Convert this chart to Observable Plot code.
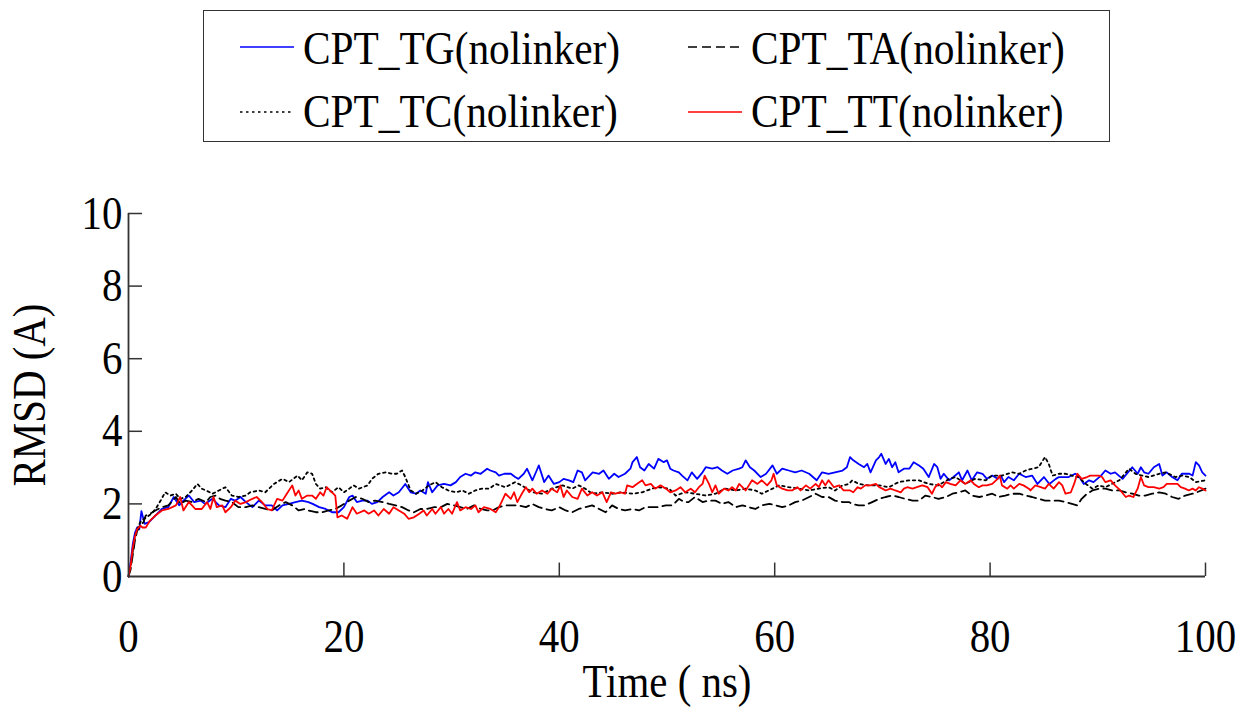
<!DOCTYPE html>
<html>
<head>
<meta charset="utf-8">
<script src="https://cdn.jsdelivr.net/npm/d3@7"></script>
<script src="https://cdn.jsdelivr.net/npm/@observablehq/plot@0.6"></script>
<style>
  html, body { margin: 0; padding: 0; background: #fff; }
  body { width: 1241px; height: 707px; overflow: hidden; font-family: "Liberation Serif", "Times New Roman", serif; }
  #legend { position: relative; width: 1241px; height: 150px; }
  #box { position: absolute; left: 203px; top: 10px; width: 907px; height: 132px; box-sizing: border-box; border: 1.5px solid #333; }
  .lab { position: absolute; font-size: 47px; line-height: 1; white-space: nowrap; color: #000; transform: scaleX(0.88); transform-origin: left center; }
  .samp { position: absolute; overflow: visible; }
  #chart svg { display: block; }
</style>
</head>
<body>
<div id="legend"><div id="box"></div></div>
<div id="chart"></div>
<script>
// ---- data (time in ns, RMSD in Å) ----
const seriesNames = ["CPT_TG(nolinker)", "CPT_TA(nolinker)", "CPT_TC(nolinker)", "CPT_TT(nolinker)"];
const xTicks = [0, 20, 40, 60, 80, 100];
const yTicks = [0, 2, 4, 6, 8, 10];

const tg = [[0,0],[0.2,0.4],[0.4,0.9],[0.6,1.2],[0.8,1.35],[1.0,1.3],[1.2,1.8],[1.5,1.45],[1.9,1.5],[2.5,1.68],[3.1,1.86],[3.7,1.91],[4.2,2.19],[4.7,1.96],[5.1,2.09],[5.6,2.23],[6.1,2.05],[6.7,2.09],[7.1,2.0],[7.8,2.14],[8.4,1.96],[9.0,1.91],[9.5,2.14],[9.9,2.09],[10.4,2.19],[10.9,2.05],[11.5,1.91],[12.1,2.09],[12.7,1.96],[13.3,1.96],[13.8,1.82],[14.3,1.96],[14.9,2.0],[15.5,2.05],[16.1,2.09],[16.7,2.05],[17.1,2.0],[17.7,1.91],[18.3,1.86],[18.9,1.77],[19.5,1.77],[20.0,1.91],[20.5,2.19],[20.8,2.23],[21.2,2.05],[21.7,2.09],[22.2,2.09],[22.6,2.0],[23.1,2.05],[23.6,2.19],[24.2,2.32],[24.6,2.23],[25.1,2.32],[25.7,2.55],[26.2,2.32],[26.7,2.28],[27.1,2.37],[27.6,2.28],[27.8,2.6],[28.2,2.32],[28.7,2.51],[29.3,2.55],[29.9,2.51],[30.4,2.6],[30.8,2.74],[31.3,2.83],[31.8,2.78],[32.2,2.87],[32.7,2.83],[33.3,2.97],[33.6,2.92],[34.1,2.87],[34.4,2.78],[34.9,2.83],[35.5,2.83],[35.9,2.74],[36.2,2.69],[36.7,2.83],[37.0,2.97],[37.5,2.65],[37.9,2.92],[38.1,3.06],[38.6,2.6],[39.0,2.78],[39.5,2.55],[40.0,2.6],[40.4,2.69],[40.9,2.65],[41.3,2.6],[41.7,2.92],[42.1,2.87],[42.4,2.65],[43.1,2.87],[43.7,2.83],[44.1,2.92],[44.6,2.69],[45.1,2.83],[45.5,2.74],[46.1,2.83],[46.6,2.97],[46.8,3.15],[47.2,3.29],[47.5,3.01],[47.9,2.92],[48.3,3.1],[48.8,2.97],[49.2,3.24],[49.7,3.15],[50.0,3.2],[50.3,2.97],[50.6,2.92],[51.1,2.87],[51.4,2.78],[51.9,2.65],[52.3,2.87],[52.8,2.69],[53.3,2.87],[53.6,3.01],[54.2,2.97],[54.7,3.01],[55.1,2.92],[55.6,2.83],[56.1,2.92],[56.7,2.97],[57.0,3.01],[57.3,3.2],[57.7,3.01],[58.1,2.92],[58.7,2.74],[59.2,2.83],[59.8,3.06],[60.2,2.83],[60.7,2.97],[61.3,2.92],[61.9,2.87],[62.5,2.92],[63.2,2.83],[63.9,2.65],[64.4,2.87],[65.0,2.83],[65.6,2.87],[66.3,2.92],[66.7,3.01],[67.0,3.29],[67.3,3.2],[67.8,3.1],[68.3,3.01],[68.6,3.1],[68.9,2.87],[69.4,3.2],[69.7,3.29],[69.9,3.38],[70.3,3.1],[70.6,3.24],[70.9,3.01],[71.2,3.15],[71.5,2.87],[72.0,2.97],[72.5,2.97],[72.9,3.15],[73.4,3.06],[73.8,2.97],[74.3,2.74],[74.8,3.1],[75.1,3.01],[75.4,2.69],[75.7,2.83],[76.2,2.65],[76.6,2.74],[77.1,2.87],[77.4,2.65],[77.9,2.92],[78.3,2.65],[78.8,2.87],[79.3,2.83],[79.7,2.69],[80.2,2.78],[80.7,2.69],[81.0,2.78],[81.3,2.6],[81.7,2.74],[82.2,2.65],[82.7,2.83],[83.3,2.74],[83.9,2.78],[84.4,2.55],[85.0,2.74],[85.5,2.55],[86.1,2.69],[86.4,2.74],[87.3,2.74],[87.9,2.83],[88.2,2.78],[88.7,2.55],[89.2,2.65],[89.6,2.6],[90.3,2.78],[90.7,2.92],[91.2,2.83],[91.6,2.87],[92.3,2.69],[92.7,2.83],[93.2,3.01],[93.7,2.83],[94.0,3.01],[94.3,2.87],[94.7,2.83],[95.2,3.01],[95.7,3.1],[96.0,2.78],[96.4,2.87],[96.9,2.74],[97.4,2.65],[97.8,2.83],[98.5,2.83],[98.8,2.78],[99.1,3.15],[99.4,3.06],[99.7,2.87],[100,2.78]];

const ta = [[0,0],[0.2,0.2],[0.4,0.6],[0.6,1.0],[0.8,1.25],[1.1,1.4],[1.4,1.5],[1.6,1.68],[2.0,1.73],[2.5,1.82],[3.1,1.91],[3.7,1.96],[4.4,2.19],[4.8,2.0],[5.3,2.09],[5.9,2.05],[6.5,2.14],[7.2,2.05],[7.6,2.19],[8.1,2.23],[8.5,2.14],[9.0,2.09],[9.6,2.05],[10.2,1.91],[10.9,1.91],[11.5,1.96],[12.1,1.91],[12.7,1.86],[13.3,1.82],[14.0,1.96],[14.6,2.05],[15.2,1.96],[15.8,1.82],[16.4,1.86],[16.7,1.82],[17.4,1.77],[18.0,1.77],[18.6,1.82],[19.2,1.86],[19.8,1.96],[20.5,2.09],[21.1,2.19],[21.7,2.14],[22.3,2.05],[22.9,2.09],[23.6,2.05],[24.2,2.0],[24.8,1.96],[25.4,1.91],[26.0,1.82],[26.5,1.77],[27.1,1.86],[27.7,1.86],[28.4,1.91],[29.0,1.91],[29.6,2.0],[30.2,1.96],[30.8,1.91],[31.4,1.86],[32.1,1.96],[32.7,1.86],[33.3,1.82],[33.8,1.82],[34.4,1.91],[35.0,1.96],[35.6,1.96],[36.2,1.96],[36.9,1.91],[37.5,2.0],[38.1,1.91],[38.7,1.86],[39.3,1.82],[40.0,1.91],[40.6,1.82],[41.2,1.77],[41.8,1.86],[42.4,1.91],[43.05,1.96],[43.7,1.86],[44.3,1.77],[44.9,1.96],[45.5,1.86],[46.1,1.82],[46.8,1.86],[47.4,1.82],[48.0,1.91],[48.6,1.91],[49.2,1.91],[49.9,1.96],[50.5,1.96],[51.1,2.14],[51.6,2.05],[52.0,2.05],[52.6,2.19],[53.3,2.05],[53.9,2.09],[54.5,2.09],[55.1,2.0],[55.7,2.05],[56.4,1.91],[57.0,1.96],[57.6,1.91],[58.2,1.86],[58.8,1.96],[59.5,2.0],[60.1,1.96],[60.7,1.91],[61.3,1.96],[61.9,2.05],[62.5,2.09],[63.2,2.19],[63.8,2.28],[64.4,2.19],[65.0,2.19],[65.6,2.09],[66.3,2.05],[66.9,2.05],[67.2,2.0],[67.8,1.96],[68.4,1.96],[69.05,2.05],[69.7,2.14],[70.3,2.19],[70.9,2.23],[71.5,2.19],[72.1,2.14],[72.8,2.09],[73.4,2.09],[74.0,2.23],[74.6,2.19],[75.2,2.14],[75.9,2.19],[76.5,2.28],[77.1,2.32],[77.7,2.37],[78.3,2.23],[79.0,2.19],[79.6,2.23],[80.2,2.28],[80.8,2.19],[81.4,2.23],[82.05,2.28],[82.7,2.28],[83.3,2.23],[83.9,2.19],[84.5,2.14],[85.1,2.09],[85.8,2.09],[86.4,2.09],[87.0,2.05],[87.6,2.0],[88.1,1.96],[88.5,2.14],[89.0,2.28],[89.5,2.37],[90.1,2.42],[90.7,2.42],[91.3,2.37],[92.0,2.37],[92.6,2.32],[93.2,2.28],[93.8,2.23],[94.4,2.23],[95.05,2.28],[95.7,2.32],[96.3,2.28],[96.9,2.19],[97.5,2.14],[98.1,2.23],[98.8,2.28],[99.2,2.32],[100,2.42]];

const tc = [[0,0],[0.2,0.3],[0.4,0.7],[0.6,1.1],[0.8,1.3],[1.1,1.5],[1.5,1.6],[2.0,1.7],[2.5,1.85],[3.0,2.1],[3.4,2.32],[3.9,2.23],[4.4,2.28],[4.8,2.14],[5.3,2.19],[5.9,2.37],[6.4,2.55],[6.8,2.42],[7.2,2.37],[7.8,2.28],[8.4,2.37],[9.0,2.46],[9.6,2.23],[10.2,2.19],[10.9,2.23],[11.3,2.32],[12.1,2.37],[12.7,2.32],[13.5,2.55],[14.3,2.69],[14.9,2.6],[15.7,2.78],[16.1,2.65],[16.6,2.87],[17.05,2.83],[17.4,2.55],[17.8,2.42],[18.3,2.46],[18.9,2.32],[19.5,2.46],[20.0,2.32],[20.5,2.42],[20.9,2.51],[21.4,2.42],[22.2,2.51],[22.6,2.69],[23.2,2.83],[23.9,2.87],[24.5,2.83],[24.9,2.83],[25.4,2.92],[25.7,2.74],[26.2,2.37],[26.7,2.28],[27.3,2.37],[27.9,2.51],[28.5,2.6],[29.1,2.46],[29.7,2.37],[30.4,2.32],[31.0,2.37],[31.6,2.28],[32.2,2.37],[32.8,2.42],[33.5,2.42],[34.1,2.55],[35.0,2.46],[35.9,2.6],[36.5,2.51],[37.5,2.32],[38.4,2.28],[39.3,2.42],[40.3,2.51],[41.2,2.42],[41.8,2.51],[42.4,2.42],[43.05,2.28],[44.0,2.32],[44.9,2.28],[45.8,2.32],[46.8,2.28],[47.7,2.32],[48.6,2.42],[49.2,2.46],[50.2,2.42],[50.8,2.23],[51.7,2.32],[52.6,2.28],[53.6,2.23],[54.5,2.28],[55.4,2.42],[56.4,2.37],[57.3,2.42],[58.2,2.37],[58.8,2.28],[59.8,2.42],[60.4,2.51],[61.3,2.46],[62.2,2.42],[63.2,2.37],[64.1,2.42],[65.0,2.46],[65.6,2.37],[66.3,2.51],[66.9,2.55],[67.2,2.65],[67.8,2.55],[68.7,2.51],[69.7,2.51],[70.6,2.46],[71.5,2.6],[72.5,2.65],[73.4,2.65],[74.3,2.55],[75.2,2.51],[76.2,2.69],[76.8,2.74],[77.7,2.55],[78.6,2.69],[79.6,2.65],[80.2,2.78],[81.1,2.78],[82.05,2.87],[82.7,2.83],[83.3,2.92],[83.9,2.97],[84.5,3.01],[85.1,3.29],[85.45,3.1],[85.8,2.78],[86.4,2.83],[87.0,2.83],[87.6,2.78],[88.2,2.74],[88.9,2.55],[89.5,2.42],[90.1,2.51],[90.7,2.46],[91.3,2.55],[92.0,2.65],[92.9,2.97],[93.5,2.83],[94.1,2.78],[94.7,2.74],[95.7,2.83],[96.3,2.87],[97.2,2.74],[97.8,2.78],[98.5,2.74],[99.1,2.6],[100,2.65]];

const tt = [[0,0],[0.2,0.3],[0.4,0.8],[0.6,1.1],[0.8,1.3],[1.1,1.4],[1.3,1.35],[1.6,1.35],[2.0,1.54],[2.5,1.68],[3.1,1.82],[3.7,1.86],[4.4,1.96],[4.8,2.19],[5.1,1.82],[5.6,2.05],[5.9,1.96],[6.2,1.86],[6.8,1.86],[7.3,2.05],[7.6,1.86],[7.9,2.19],[8.2,1.91],[8.7,1.96],[9.0,1.77],[9.5,1.91],[9.9,2.09],[10.4,2.0],[10.9,2.05],[11.5,2.14],[11.9,2.19],[12.4,2.05],[12.9,1.86],[13.3,1.82],[13.8,2.14],[14.3,2.09],[14.7,2.28],[15.2,2.51],[15.5,2.23],[15.8,2.37],[16.1,2.14],[16.6,2.23],[17.05,2.23],[17.4,2.14],[17.8,2.32],[18.1,2.23],[18.4,2.46],[18.9,2.32],[19.2,2.23],[19.4,1.63],[19.8,1.68],[20.3,1.59],[20.8,1.91],[21.2,1.73],[21.9,1.82],[22.3,1.73],[22.8,1.82],[23.2,1.68],[23.7,1.86],[24.2,1.73],[24.6,1.91],[25.1,1.82],[25.6,1.73],[26.0,1.59],[26.5,1.63],[27.0,1.73],[27.4,1.82],[27.7,1.68],[28.2,1.86],[28.5,1.73],[29.0,1.91],[29.3,1.73],[29.7,1.86],[30.05,1.73],[30.5,2.05],[30.8,1.82],[31.3,1.91],[31.8,1.86],[32.2,1.96],[32.5,1.77],[33.0,1.91],[33.6,1.86],[34.1,1.77],[34.4,1.91],[34.7,2.09],[35.0,2.28],[35.5,2.14],[35.8,2.32],[36.1,2.05],[36.6,2.32],[36.9,2.46],[37.2,2.32],[37.5,2.42],[37.9,2.28],[38.4,2.37],[38.9,2.28],[39.3,2.42],[39.8,2.32],[40.1,2.51],[40.4,2.19],[40.7,2.37],[41.2,2.19],[41.7,2.14],[42.1,2.42],[42.6,2.23],[43.05,2.32],[43.5,2.23],[44.0,2.32],[44.4,2.05],[44.8,2.32],[45.2,2.28],[45.7,2.32],[46.1,2.28],[46.3,2.51],[46.8,2.46],[47.2,2.55],[47.7,2.65],[48.0,2.51],[48.5,2.55],[48.9,2.42],[49.4,2.51],[49.9,2.42],[50.3,2.32],[50.8,2.37],[51.25,2.46],[51.7,2.32],[52.2,2.42],[52.6,2.32],[52.96,2.46],[53.3,2.55],[53.5,2.78],[53.9,2.55],[54.2,2.32],[54.5,2.51],[54.8,2.28],[55.3,2.42],[55.7,2.37],[56.05,2.46],[56.4,2.37],[56.7,2.55],[57.0,2.46],[57.3,2.37],[57.6,2.51],[57.9,2.65],[58.4,2.55],[58.8,2.65],[59.3,2.51],[59.7,2.65],[59.9,2.83],[60.2,2.51],[60.7,2.42],[61.2,2.37],[61.6,2.37],[62.1,2.46],[62.4,2.37],[62.9,2.51],[63.3,2.42],[63.8,2.55],[64.1,2.46],[64.4,2.65],[64.7,2.51],[65.0,2.65],[65.5,2.46],[66.0,2.51],[66.4,2.37],[67.0,2.37],[67.3,2.32],[67.7,2.46],[68.0,2.42],[68.4,2.51],[68.9,2.51],[69.4,2.55],[69.7,2.46],[70.0,2.42],[70.3,2.37],[70.75,2.42],[71.2,2.37],[71.7,2.32],[72.0,2.42],[72.3,2.46],[72.8,2.42],[73.2,2.46],[73.7,2.51],[74.2,2.46],[74.6,2.28],[74.9,2.46],[75.2,2.55],[75.55,2.46],[75.9,2.6],[76.3,2.55],[76.8,2.51],[77.25,2.65],[77.7,2.55],[78.2,2.65],[78.5,2.55],[78.95,2.46],[79.3,2.51],[79.7,2.51],[80.2,2.55],[80.7,2.69],[80.9,2.78],[81.1,2.51],[81.6,2.42],[81.9,2.51],[82.2,2.42],[82.7,2.55],[83.1,2.51],[83.6,2.42],[83.75,2.37],[84.2,2.51],[84.7,2.46],[85.1,2.42],[85.45,2.55],[85.9,2.42],[86.4,2.6],[86.7,2.51],[87.0,2.28],[87.5,2.32],[87.8,2.55],[88.1,2.83],[88.5,2.69],[89.0,2.74],[89.3,2.78],[89.8,2.78],[90.1,2.78],[90.4,2.74],[90.7,2.6],[91.2,2.65],[91.6,2.51],[92.1,2.37],[92.6,2.19],[92.9,2.23],[93.3,2.19],[93.7,2.42],[94.0,2.74],[94.3,2.51],[94.7,2.46],[95.2,2.46],[95.7,2.42],[96.1,2.46],[96.4,2.55],[96.9,2.55],[97.4,2.55],[97.7,2.46],[98.1,2.42],[98.45,2.37],[98.8,2.42],[99.1,2.37],[99.4,2.46],[99.7,2.42],[100,2.37]];

// ---- styling ----
const seriesColors = ["#0000ff", "#000000", "#000000", "#ff0000"];
const seriesDash = [null, "9,5", "2.5,3.5", null];
const seriesData = [tg, ta, tc, tt];
const TEXT_SCALE = 0.87;

const toRows = (arr, name) => arr.map(([t, v]) => ({time: t, rmsd: v, series: name}));

// ---- legend (HTML, above the SVG) ----
const legend = document.getElementById("legend");
const legendPos = [
  {lx: 240, ly: 47, base: 64},
  {lx: 688, ly: 47, base: 64},
  {lx: 240, ly: 112, base: 127},
  {lx: 688, ly: 112, base: 127}
];
seriesNames.forEach((name, i) => {
  const p = legendPos[i];
  const s = document.createElementNS("http://www.w3.org/2000/svg", "svg");
  s.setAttribute("class", "samp");
  s.setAttribute("width", 56);
  s.setAttribute("height", 10);
  s.style.left = p.lx + "px";
  s.style.top = (p.ly - 5) + "px";
  const ln = document.createElementNS("http://www.w3.org/2000/svg", "line");
  ln.setAttribute("x1", 0); ln.setAttribute("x2", 54);
  ln.setAttribute("y1", 5); ln.setAttribute("y2", 5);
  ln.setAttribute("stroke", seriesColors[i]);
  ln.setAttribute("stroke-width", 1.7);
  if (seriesDash[i]) ln.setAttribute("stroke-dasharray", seriesDash[i]);
  s.appendChild(ln);
  legend.appendChild(s);
  const t = document.createElement("span");
  t.className = "lab";
  t.textContent = name;
  t.style.left = (p.lx + 63) + "px";
  t.style.top = (p.base - 39.4) + "px";
  legend.appendChild(t);
});

// ---- chart ----
const axisColor = "#333";
const chart = Plot.plot({
  width: 1241,
  height: 557,
  marginLeft: 128,
  marginRight: 36,
  marginTop: 63,
  marginBottom: 131,
  style: {fontFamily: '"Liberation Serif", "Times New Roman", serif', fontSize: "47px", color: "#000", background: "#fff"},
  x: {domain: [0, 100]},
  y: {domain: [0, 10]},
  marks: [
    ...seriesData.map((arr, i) =>
      Plot.line(toRows(arr, seriesNames[i]), {
        x: "time", y: "rmsd",
        stroke: seriesColors[i], strokeWidth: 1.8,
        strokeDasharray: seriesDash[i] || undefined
      })
    ),
    Plot.ruleX(xTicks.slice(1), {x: d => d, y1: 0, y2: 0.37, stroke: axisColor, strokeWidth: 1.5}),
    Plot.ruleY(yTicks.slice(1), {y: d => d, x1: 0, x2: 1.3, stroke: axisColor, strokeWidth: 1.5}),
    Plot.ruleX([0], {stroke: axisColor, strokeWidth: 1.8}),
    Plot.ruleY([0], {stroke: axisColor, strokeWidth: 1.8}),
    Plot.axisX(xTicks, {tickSize: 0, tickPadding: 42, fontSize: 47, label: "Time ( ns)", labelAnchor: "center", labelOffset: 120, labelArrow: "none"}),
    Plot.axisY(yTicks, {tickSize: 0, tickPadding: 6, fontSize: 47, label: "RMSD (A)", labelAnchor: "center", labelOffset: 117, labelArrow: "none"})
  ]
});
document.getElementById("chart").appendChild(chart);

// condense serif text horizontally like the reference
chart.querySelectorAll("text").forEach(t => {
  const tr = t.getAttribute("transform") || "";
  const x = parseFloat(t.getAttribute("x") || "0");
  if (x) t.setAttribute("x", x / TEXT_SCALE);
  t.setAttribute("transform", (tr + ` scale(${TEXT_SCALE},1)`).trim());
});
</script>
</body>
</html>
